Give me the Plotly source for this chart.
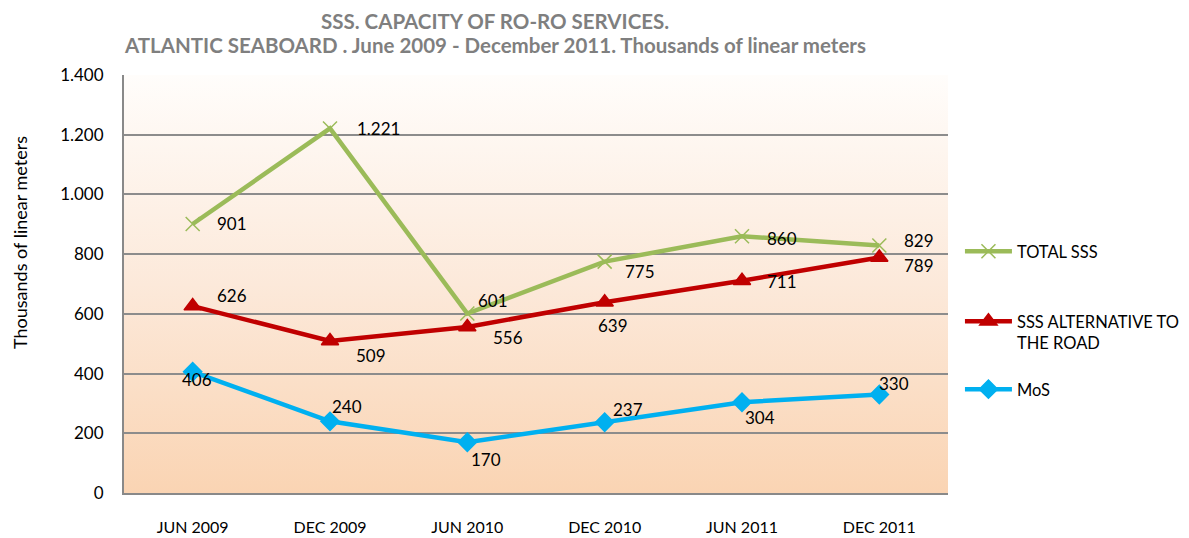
import base64
import plotly.graph_objects as go

categories = ["JUN 2009", "DEC 2009", "JUN 2010", "DEC 2010", "JUN 2011", "DEC 2011"]
total_sss = [901, 1221, 601, 775, 860, 829]
sss_alt_road = [626, 509, 556, 639, 711, 789]
mos = [406, 240, 170, 237, 304, 330]

series_names = ["TOTAL SSS", "SSS ALTERNATIVE TO<br>THE ROAD", "MoS"]
title_line1 = "<b>SSS. CAPACITY OF RO-RO SERVICES.</b>"
title_line2 = "<b>ATLANTIC SEABOARD . June 2009 - December 2011. Thousands of linear meters</b>"
y_title = "Thousands of linear meters"

# label offsets (pixels) for data labels: (dx, dy) with dy positive = up
green_off = [(22, 0), (25, 0), (9, 13), (18, -10), (23, -2), (23, 5)]
red_off = [(22, 11), (24, -14), (24, -11), (-9, -23), (23, -1), (23, -8)]
blue_off = [(-13, -8), (0, 15), (2, -17), (6, 13), (1, -15), (-2, 11)]

FONT = "Lato, 'Open Sans', sans-serif"

def fmt(v):
    return f"{v:,}".replace(",", ".")

fig = go.Figure()
styles = [
    (total_sss, "#9BBB59", "x-thin-open", 14, green_off, "legend"),
    (sss_alt_road, "#C00000", "triangle-up", 15, red_off, "legend2"),
    (mos, "#00B0F0", "diamond", 14, blue_off, "legend3"),
]
annotations = []
for (vals, color, sym, msize, offs, leg), name in zip(styles, series_names):
    fig.add_trace(go.Scatter(
        x=categories, y=vals, name=name, mode="lines+markers",
        line=dict(color=color, width=4.5),
        marker=dict(symbol=sym, size=msize, color=color,
                    line=dict(color=color, width=1.5)),
        legend=leg,
    ))
    for c, v, (dx, dy) in zip(categories, vals, offs):
        annotations.append(dict(
            x=c, y=v, xref="x", yref="y", text=fmt(v), showarrow=False,
            xanchor="left", yanchor="middle", xshift=dx, yshift=dy,
            font=dict(family=FONT, size=17, color="#000000"),
        ))

annotations.append(dict(
    x=-0.1265, y=0.600, xref="paper", yref="paper", text=y_title,
    showarrow=False, textangle=-90, xanchor="center", yanchor="middle",
    font=dict(family=FONT, size=18, color="#000000"),
))
for txt, ty in ((title_line1, 1.128), (title_line2, 1.072)):
    annotations.append(dict(
        x=0.4505, y=ty, xref="paper", yref="paper", text=txt,
        showarrow=False, xanchor="center", yanchor="middle", align="center",
        font=dict(family=FONT, size=20.5, color="#7F7F7F"),
    ))

svg = ('<svg xmlns="http://www.w3.org/2000/svg" width="100" height="100" preserveAspectRatio="none">'
       '<defs><linearGradient id="g" x1="0" y1="0" x2="0" y2="1">'
       '<stop offset="0" stop-color="#FFFDFB"/>'
       '<stop offset="0.5" stop-color="#FCE9DA"/>'
       '<stop offset="1" stop-color="#FAD4B3"/>'
       '</linearGradient></defs>'
       '<rect width="100" height="100" fill="url(#g)"/></svg>')
src = "data:image/svg+xml;base64," + base64.b64encode(svg.encode()).decode()

legend_common = dict(x=1.0145, xanchor="left", yanchor="top", valign="top",
                     bgcolor="rgba(0,0,0,0)", itemwidth=47,
                     font=dict(family=FONT, size=16.5, color="#000000"))

fig.update_layout(
    width=1189, height=530,
    margin=dict(l=116, r=243, t=67, b=45),
    paper_bgcolor="#FFFFFF",
    plot_bgcolor="rgba(0,0,0,0)",
    separators=",.",
    font=dict(family=FONT, size=16, color="#000000"),
    images=[dict(source=src, xref="paper", yref="paper", x=0, y=1,
                 sizex=1, sizey=1, sizing="stretch", layer="below",
                 xanchor="left", yanchor="top")],
    annotations=annotations,
    showlegend=True,
    legend=dict(y=0.6196, **legend_common),
    legend2=dict(y=0.452, **legend_common),
    legend3=dict(y=0.2895, **legend_common),
    xaxis=dict(type="category", range=[-0.5, 5.5], showgrid=False,
               showline=True, linecolor="#898989", linewidth=2,
               ticks="", ticklabelstandoff=19, automargin=False,
               tickfont=dict(family=FONT, size=16, color="#000000")),
    yaxis=dict(range=[0, 1400], dtick=200, tickformat=",d",
               showgrid=True, gridcolor="#8C8C8C", gridwidth=1.5,
               showline=True, linecolor="#898989", linewidth=2,
               zeroline=False, ticks="", ticklabelstandoff=15, automargin=False,
               tickfont=dict(family=FONT, size=17, color="#000000")),
)

fig.write_html("out.html")
